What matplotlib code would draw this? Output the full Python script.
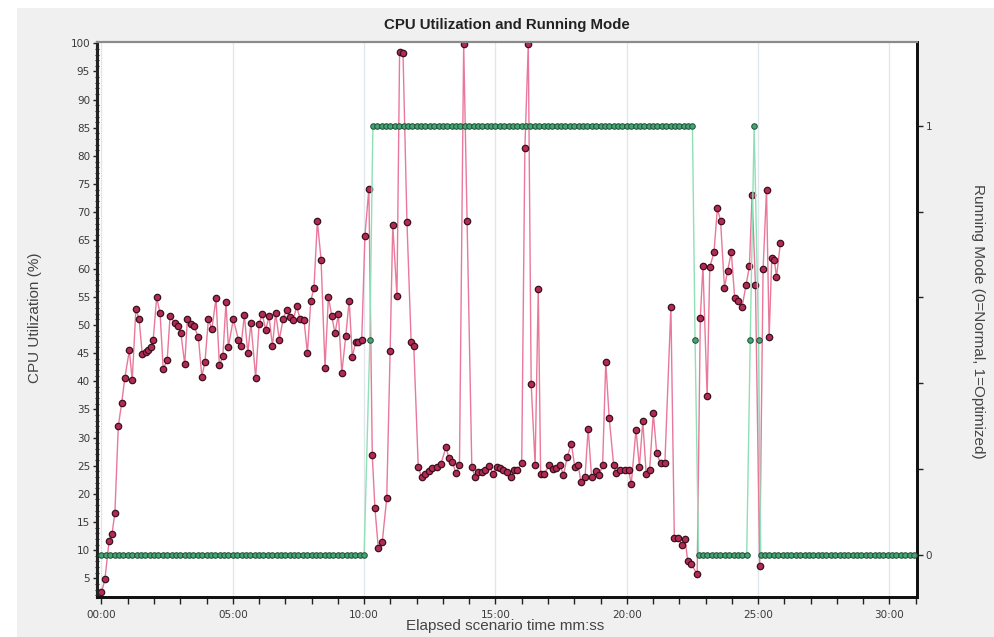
import matplotlib
matplotlib.use("Agg")
import matplotlib.pyplot as plt
from matplotlib.patches import Rectangle
from matplotlib.ticker import MultipleLocator, FixedLocator, FuncFormatter

plt.rcParams["font.family"] = ["Liberation Sans", "DejaVu Sans"]

# CPU utilisation samples: elapsed minutes and percent
cpu_minutes = [
    0.00, 0.13, 0.29, 0.40, 0.51, 0.64, 0.77, 0.89, 1.06, 1.17,
    1.31, 1.43, 1.55, 1.68, 1.78, 1.87, 1.97, 2.10, 2.23, 2.35,
    2.50, 2.61, 2.80, 2.92, 3.02, 3.17, 3.27, 3.40, 3.52, 3.69,
    3.82, 3.94, 4.07, 4.20, 4.36, 4.49, 4.62, 4.74, 4.83, 5.02,
    5.21, 5.31, 5.44, 5.57, 5.69, 5.87, 6.00, 6.12, 6.25, 6.38,
    6.51, 6.63, 6.77, 6.92, 7.05, 7.18, 7.30, 7.43, 7.56, 7.71,
    7.84, 7.97, 8.09, 8.22, 8.36, 8.51, 8.64, 8.77, 8.89, 9.02,
    9.15, 9.30, 9.43, 9.55, 9.68, 9.78, 9.91, 10.03, 10.18, 10.31,
    10.41, 10.54, 10.69, 10.86, 10.99, 11.09, 11.25, 11.35, 11.48, 11.63,
    11.79, 11.89, 12.06, 12.19, 12.32, 12.47, 12.60, 12.76, 12.92, 13.12,
    13.22, 13.35, 13.50, 13.63, 13.79, 13.92, 14.10, 14.22, 14.35, 14.48,
    14.60, 14.77, 14.90, 15.05, 15.18, 15.30, 15.43, 15.58, 15.71, 15.83,
    16.00, 16.12, 16.25, 16.36, 16.51, 16.63, 16.72, 16.85, 17.05, 17.18,
    17.31, 17.46, 17.59, 17.73, 17.89, 18.02, 18.15, 18.25, 18.41, 18.53,
    18.66, 18.82, 18.95, 19.08, 19.20, 19.33, 19.50, 19.59, 19.76, 19.93,
    20.07, 20.17, 20.35, 20.48, 20.61, 20.74, 20.87, 21.01, 21.14, 21.29,
    21.45, 21.68, 21.81, 21.96, 22.09, 22.22, 22.32, 22.45, 22.68, 22.80,
    22.90, 23.06, 23.16, 23.32, 23.45, 23.57, 23.72, 23.84, 23.98, 24.11,
    24.23, 24.39, 24.54, 24.67, 24.77, 24.90, 25.06, 25.19, 25.32, 25.42,
    25.52, 25.62, 25.70, 25.85,
]
cpu_percent = [
    2.5, 4.8, 11.7, 12.9, 16.6, 32.0, 36.2, 40.6, 45.5, 40.2,
    52.8, 51.1, 44.9, 45.2, 45.6, 46.1, 47.4, 54.9, 52.1, 42.2,
    43.7, 51.5, 50.3, 49.8, 48.6, 43.0, 51.1, 50.1, 49.8, 47.8,
    40.8, 43.4, 51.0, 49.2, 54.7, 42.8, 44.4, 54.0, 46.1, 51.0,
    47.4, 46.2, 51.7, 45.0, 50.3, 40.6, 50.1, 52.0, 49.1, 51.5,
    46.2, 52.1, 47.4, 51.1, 52.7, 51.4, 50.8, 53.3, 51.1, 50.8,
    45.0, 54.3, 56.6, 68.4, 61.6, 42.4, 55.0, 51.5, 48.5, 51.9,
    41.5, 48.0, 54.3, 44.3, 47.0, 47.0, 47.4, 65.8, 74.2, 26.9,
    17.5, 10.3, 11.5, 19.2, 45.3, 67.7, 55.1, 98.4, 98.2, 68.3,
    46.9, 46.3, 24.8, 22.9, 23.6, 24.0, 24.5, 24.8, 25.3, 28.3,
    26.4, 25.7, 23.7, 25.1, 99.8, 68.5, 24.8, 23.0, 23.9, 23.9,
    24.2, 24.9, 23.6, 24.8, 24.5, 24.2, 23.9, 23.0, 24.2, 24.2,
    25.4, 81.4, 99.9, 39.5, 25.1, 56.4, 23.5, 23.5, 25.1, 24.4,
    24.6, 25.1, 23.3, 26.5, 28.9, 24.8, 25.2, 22.1, 22.9, 31.6,
    22.9, 24.0, 23.4, 25.1, 43.4, 33.5, 25.1, 23.7, 24.3, 24.3,
    24.3, 21.7, 31.4, 24.8, 32.9, 23.5, 24.3, 34.3, 27.2, 25.4,
    25.4, 53.2, 12.2, 12.1, 11.0, 11.9, 8.1, 7.6, 5.7, 51.3,
    60.4, 37.3, 60.2, 62.9, 70.7, 68.5, 56.6, 59.6, 62.9, 54.7,
    54.3, 53.2, 57.0, 60.4, 73.1, 57.0, 7.2, 59.9, 74.0, 47.8,
    61.8, 61.5, 58.5, 64.6,
]

# running mode samples, logged every 10 s: (start second, sample count, mode)
mode_runs = [
    (0, 61, 0.0),
    (613, 1, 0.5),
    (620, 74, 1.0),
    (1356, 1, 0.5),
    (1364, 12, 0.0),
    (1482, 1, 0.5),
    (1491, 1, 1.0),
    (1501, 1, 0.5),
    (1506, 36, 0.0),
]
mode_step_seconds = 10

x_major_minutes = [0, 5, 10, 15, 20, 25, 30]
cpu_ticks = list(range(5, 101, 5))
mode_ticks = [0, 0.2, 0.4, 0.6, 0.8, 1.0]
mode_labels = ["0", "", "", "", "", "1"]

TICK_FONT = ["DejaVu Sans"]


def expand_runs(runs, step):
    minutes, values = [], []
    for start, count, value in runs:
        for k in range(count):
            minutes.append((start + k * step) / 60.0)
            values.append(value)
    return minutes, values


def mmss(x, _pos):
    total = int(round(x * 60))
    return f"{total // 60:02d}:{total % 60:02d}"


def main() -> None:
    mode_minutes, mode_values = expand_runs(mode_runs, mode_step_seconds)

    fig = plt.figure(figsize=(9.95, 6.37), dpi=100, facecolor="white")
    fig.patches.append(Rectangle((17 / 995, 0), 1, 1 - 8 / 637, transform=fig.transFigure,
                                 facecolor="#f0f0f0", edgecolor="none", zorder=-10))

    ax = fig.add_axes([97 / 995, 1 - 597 / 637, 820 / 995, 555 / 637])
    ax.set_facecolor("white")
    ax2 = ax.twinx()
    # cpu axes behind, mode axes in front so the green series sits on top
    ax.set_zorder(1)
    ax2.set_zorder(2)
    ax2.patch.set_visible(False)

    for m in x_major_minutes:
        ax.axvline(m, color="#dfe6ee", lw=1.0, zorder=0)

    ax.plot(cpu_minutes, cpu_percent, color="#e9789b", lw=1.0, marker="o", ms=4.6,
            mfc="#b32a52", mec="#3a1020", mew=0.9, zorder=3)
    ax2.plot(mode_minutes, mode_values, color="#8fe0b6", lw=1.0, marker="o", ms=4.0,
             mfc="#46a374", mec="#1e4d36", mew=0.7, zorder=4)

    ax.set_xlim(-0.171, 31.05)
    ax.set_ylim(1.68, 100.23)
    ax2.set_ylim(-0.098, 1.195)

    ax.xaxis.set_major_locator(FixedLocator(x_major_minutes))
    ax.xaxis.set_minor_locator(MultipleLocator(1))
    ax.xaxis.set_major_formatter(FuncFormatter(mmss))
    ax.yaxis.set_major_locator(FixedLocator(cpu_ticks))
    ax.yaxis.set_minor_locator(MultipleLocator(1))
    ax2.yaxis.set_major_locator(FixedLocator(mode_ticks))
    ax2.set_yticklabels(mode_labels)

    ax.tick_params(axis="x", which="both", direction="out", length=5, width=1,
                   color="#222222", labelsize=7.5, labelcolor="#3a3a3a", pad=4)
    ax.tick_params(axis="y", which="major", direction="out", length=3, width=1,
                   color="#222222", labelsize=7.5, labelcolor="#3a3a3a", pad=2)
    ax.tick_params(axis="y", which="minor", direction="inout", length=3, width=0.8,
                   color="#222222")
    ax2.tick_params(axis="y", which="both", direction="out", length=4, width=1,
                    color="#222222", labelsize=7.5, labelcolor="#3a3a3a", pad=2)
    for lab in ax.get_xticklabels() + ax.get_yticklabels() + ax2.get_yticklabels():
        lab.set_family(TICK_FONT)

    for a in (ax, ax2):
        a.spines["top"].set_color("#8a8a8a")
        a.spines["top"].set_linewidth(1.5)
        a.spines["left"].set_color("#222222")
        a.spines["left"].set_linewidth(2.2)
        a.spines["bottom"].set_color("#111111")
        a.spines["bottom"].set_linewidth(2.0)
        a.spines["right"].set_color("#111111")
        a.spines["right"].set_linewidth(2.0)

    fig.text(507 / 995, 1 - 25 / 637, "CPU Utilization and Running Mode", ha="center",
             va="center", fontsize=10.8, fontweight="bold", color="#222222")
    fig.text(35 / 995, 1 - 318 / 637, "CPU Utilization (%)", ha="center", va="center",
             rotation=90, fontsize=11, color="#444444")
    fig.text(978 / 995, 1 - 321 / 637, "Running Mode (0=Normal, 1=Optimized)", ha="center",
             va="center", rotation=270, fontsize=11, color="#444444")
    fig.text(505 / 995, 1 - 626 / 637, "Elapsed scenario time mm:ss", ha="center",
             va="center", fontsize=11, color="#444444")

    fig.savefig("out.png", dpi=100, facecolor=fig.get_facecolor())
    plt.close(fig)


if __name__ == "__main__":
    main()
